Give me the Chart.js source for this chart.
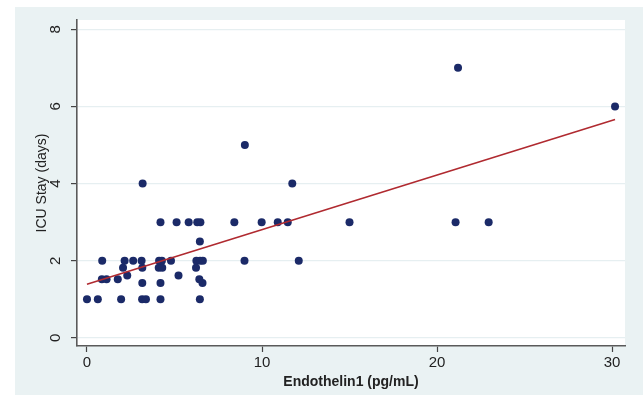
<!DOCTYPE html>
<html>
<head>
<meta charset="utf-8">
<script src="https://cdn.jsdelivr.net/npm/chart.js@4"></script>
<style>
  body { margin: 0; background: #fff; }
  canvas { display: block; }
</style>
</head>
<body>
<canvas id="scatter" width="643" height="395"></canvas>
<script>
// Endothelin1 (pg/mL) vs ICU stay (days)
const endothelin = [
  0, 0.62, 1.95, 3.15, 3.37, 4.2, 6.45,
  3.16, 4.2, 6.6,
  0.85, 1.12, 1.76, 6.42,
  2.3, 5.23,
  2.06, 3.16, 4.1, 4.3, 6.23,
  0.87, 2.15, 2.64, 3.12, 4.12, 4.28, 4.8, 6.25, 6.46, 6.62, 9.0, 12.1,
  6.45,
  4.2, 5.12, 5.81, 6.3, 6.48, 8.42, 9.98, 10.9, 11.47, 15.0, 21.06, 22.95,
  3.18, 11.73,
  9.02,
  30.17,
  21.2
];
const icuStay = [
  1, 1, 1, 1, 1, 1, 1,
  1.42, 1.42, 1.42,
  1.52, 1.52, 1.52, 1.52,
  1.62, 1.62,
  1.82, 1.82, 1.82, 1.82, 1.82,
  2, 2, 2, 2, 2, 2, 2, 2, 2, 2, 2, 2,
  2.5,
  3, 3, 3, 3, 3, 3, 3, 3, 3, 3, 3, 3,
  4, 4,
  5,
  6,
  7
];

// linear fit line, ends
const fitX = [0, 30.17];
const fitY = [1.39, 5.66];

const xTicks = [0, 10, 20, 30];
const yTicks = [0, 2, 4, 6, 8];

const font = "'Liberation Sans', Arial, sans-serif";

// light outer frame and white plot region
const backdrop = {
  id: "backdrop",
  beforeDraw(chart) {
    const { ctx, chartArea: a } = chart;
    ctx.save();
    ctx.fillStyle = "#fff";
    ctx.fillRect(0, 0, chart.width, chart.height);
    ctx.fillStyle = "#eaf2f3";
    ctx.fillRect(15, 7, chart.width - 15, chart.height - 7);
    ctx.fillStyle = "#fff";
    ctx.fillRect(a.left, a.top, a.right - a.left, a.bottom - a.top);
    ctx.restore();
  }
};

const points = endothelin.map((x, i) => ({ x: x, y: icuStay[i] }));
const fitLine = fitX.map((x, i) => ({ x: x, y: fitY[i] }));

new Chart(document.getElementById("scatter"), {
  type: "scatter",
  data: {
    datasets: [
      {
        label: "ICU Stay (days)",
        data: points,
        pointRadius: 4,
        backgroundColor: "#1b2a68",
        borderWidth: 0,
        order: 2
      },
      {
        label: "Fitted values",
        data: fitLine,
        showLine: true,
        borderColor: "#b02a30",
        borderWidth: 1.6,
        pointRadius: 0,
        order: 1
      }
    ]
  },
  options: {
    responsive: false,
    animation: false,
    layout: { padding: { top: 20, right: 18, left: 0, bottom: 0 } },
    plugins: { legend: { display: false }, tooltip: { enabled: false } },
    scales: {
      x: {
        type: "linear",
        min: -0.57,
        max: 30.74,
        afterFit: s => { s.height = 49; },
        afterBuildTicks: s => { s.ticks = xTicks.map(v => ({ value: v })); },
        ticks: { includeBounds: false, color: "#222", padding: 2, font: { family: font, size: 15 } },
        grid: { drawOnChartArea: false, tickColor: "#444", tickLength: 6, tickWidth: 1.2 },
        border: { color: "#5a5a5a", width: 1.6 },
        title: {
          display: true,
          text: "Endothelin1 (pg/mL)",
          color: "#222",
          font: { family: font, size: 14, weight: "bold" },
          padding: { top: 0, bottom: 4 }
        }
      },
      y: {
        min: -0.21,
        max: 8.24,
        afterFit: s => { s.width = 77; },
        afterBuildTicks: s => { s.ticks = yTicks.map(v => ({ value: v })); },
        ticks: {
          includeBounds: false,
          minRotation: 90,
          maxRotation: 90,
          crossAlign: "center",
          padding: 11,
          color: "#222",
          font: { family: font, size: 15 }
        },
        grid: { color: "#e6eff1", lineWidth: 1.2, tickColor: "#444", tickLength: 6, tickWidth: 1.2 },
        border: { color: "#5a5a5a", width: 1.6 },
        title: {
          display: true,
          text: "ICU Stay (days)",
          color: "#222",
          font: { family: font, size: 14 },
          padding: { top: 34, bottom: 0 }
        }
      }
    }
  },
  plugins: [backdrop]
});
</script>
</body>
</html>
